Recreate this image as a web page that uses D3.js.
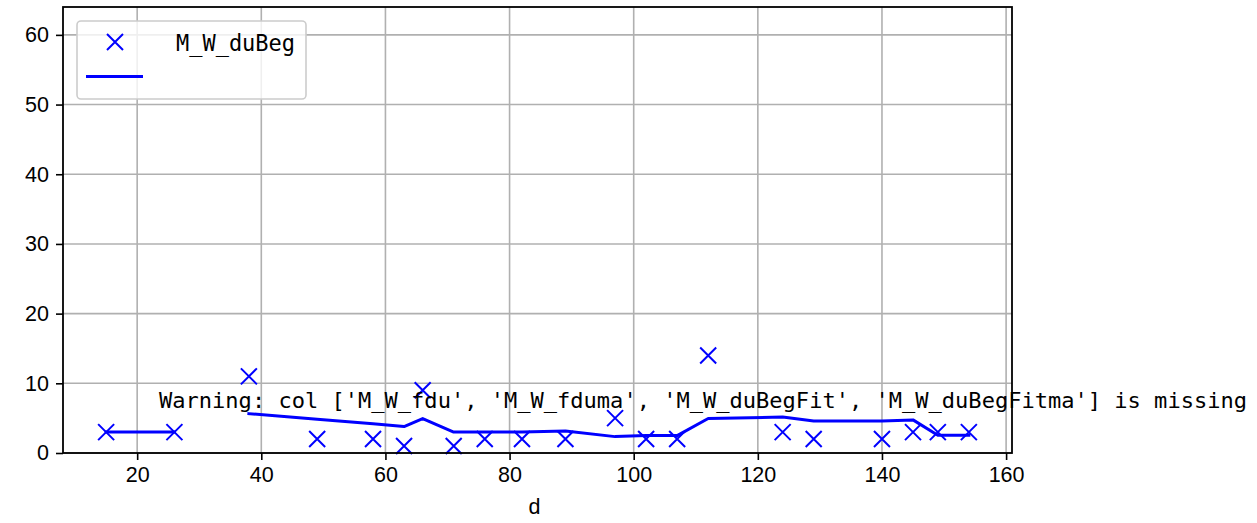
<!DOCTYPE html>
<html>
<head>
<meta charset="utf-8">
<script src="https://cdn.jsdelivr.net/npm/d3@7"></script>
<style>
  html, body { margin: 0; padding: 0; background: #ffffff; }
  svg { display: block; }
</style>
</head>
<body>
<script>
// ---- data ----
const pointX = [15, 26, 38, 49, 58, 63, 66, 71, 76, 82, 89, 97, 102, 107, 112, 124, 129, 140, 145, 149, 154];
const pointY = [3, 3, 11, 2, 2, 1, 9, 1, 2, 2, 2, 5, 2, 2, 14, 3, 2, 2, 3, 3, 3];
const fitX = [15, 26, 32, 38, 49, 58, 63, 66, 71, 76, 82, 89, 97, 102, 107, 112, 124, 129, 140, 145, 149, 154];
const fitY = [3, 3, null, 5.65, 4.85, 4.2, 3.8, 4.95, 3.0, 3.0, 3.0, 3.15, 2.35, 2.5, 2.5, 4.95, 5.15, 4.6, 4.6, 4.75, 2.55, 2.55];
const xTicks = [20, 40, 60, 80, 100, 120, 140, 160];
const yTicks = [0, 10, 20, 30, 40, 50, 60];
const seriesName = "M_W_duBeg";
const xLabel = "d";
const warningText = "Warning: col ['M_W_fdu', 'M_W_fduma', 'M_W_duBegFit', 'M_W_duBegFitma'] is missing";

// ---- layout ----
const W = 1257, H = 523;
const pL = 63, pR = 1012, pT = 7, pB = 453;
const blue = "#0000ff";

const svg = d3.select("body").append("svg").attr("width", W).attr("height", H);

const x = d3.scaleLinear().domain([8.05, 160.95]).range([pL, pR]);
const y = d3.scaleLinear().domain([0, 64]).range([pB, pT]);

// grid
const grid = svg.append("g");
grid.selectAll("line.gx").data(xTicks).enter().append("line")
  .attr("x1", d => x(d)).attr("x2", d => x(d)).attr("y1", pT).attr("y2", pB)
  .attr("stroke", "#b0b0b0").attr("stroke-width", 1.6);
grid.selectAll("line.gy").data(yTicks).enter().append("line")
  .attr("x1", pL).attr("x2", pR).attr("y1", d => y(d)).attr("y2", d => y(d))
  .attr("stroke", "#b0b0b0").attr("stroke-width", 1.6);

// fit line
const line = d3.line()
  .defined((d, i) => fitY[i] !== null)
  .x((d, i) => x(fitX[i]))
  .y((d, i) => y(fitY[i]));
svg.append("path").datum(fitX).attr("d", line)
  .attr("fill", "none").attr("stroke", blue).attr("stroke-width", 3)
  .attr("stroke-linejoin", "round").attr("stroke-linecap", "square");

// markers
const ms = 8;
const marks = svg.append("g");
pointX.forEach((px, i) => {
  const cx = x(px), cy = y(pointY[i]);
  marks.append("path")
    .attr("d", `M${cx - ms},${cy - ms}L${cx + ms},${cy + ms}M${cx - ms},${cy + ms}L${cx + ms},${cy - ms}`)
    .attr("stroke", blue).attr("stroke-width", 2).attr("fill", "none");
});

// axes
const axB = svg.append("g").attr("transform", `translate(0,${pB})`)
  .call(d3.axisBottom(x).tickValues(xTicks).tickSize(7).tickPadding(7).tickFormat(d3.format("d")));
const axL = svg.append("g").attr("transform", `translate(${pL},0)`)
  .call(d3.axisLeft(y).tickValues(yTicks).tickSize(7).tickPadding(7).tickFormat(d3.format("d")));
[axB, axL].forEach(a => {
  a.select(".domain").remove();
  a.selectAll(".tick line").attr("stroke", "#000").attr("stroke-width", 1.6);
  a.selectAll(".tick text").attr("fill", "#000")
    .style("font-family", "'Liberation Sans', Arial, sans-serif").style("font-size", "21.5px");
});
axB.selectAll(".tick text").attr("dy", "0.72em");

// frame
svg.append("rect").attr("x", pL).attr("y", pT).attr("width", pR - pL).attr("height", pB - pT)
  .attr("fill", "none").attr("stroke", "#000").attr("stroke-width", 1.8);

// x label
svg.append("text").attr("x", (pL + pR) / 2 - 3).attr("y", 514).attr("text-anchor", "middle")
  .style("font-family", "'Liberation Sans', Arial, sans-serif").style("font-size", "21.5px")
  .text(xLabel);

// warning text
svg.append("text").attr("x", 159).attr("y", 408)
  .style("font-family", "'DejaVu Sans Mono', monospace").style("font-size", "21.8px")
  .attr("textLength", 1088).attr("lengthAdjust", "spacingAndGlyphs")
  .attr("fill", "#000")
  .text(warningText);

// legend
const lg = svg.append("g");
lg.append("rect").attr("x", 77).attr("y", 21).attr("width", 229).attr("height", 78)
  .attr("rx", 4).attr("ry", 4)
  .attr("fill", "#ffffff").attr("fill-opacity", 0.8).attr("stroke", "#cccccc").attr("stroke-width", 1.6);
const lx = 115, ly = 42;
lg.append("path")
  .attr("d", `M${lx - ms},${ly - ms}L${lx + ms},${ly + ms}M${lx - ms},${ly + ms}L${lx + ms},${ly - ms}`)
  .attr("stroke", blue).attr("stroke-width", 2);
lg.append("line").attr("x1", 86).attr("x2", 143).attr("y1", 76.5).attr("y2", 76.5)
  .attr("stroke", blue).attr("stroke-width", 3);
lg.append("text").attr("x", 176).attr("y", 51)
  .style("font-family", "'DejaVu Sans Mono', monospace").style("font-size", "23px")
  .attr("textLength", 119).attr("lengthAdjust", "spacingAndGlyphs")
  .text(seriesName);
</script>
</body>
</html>
